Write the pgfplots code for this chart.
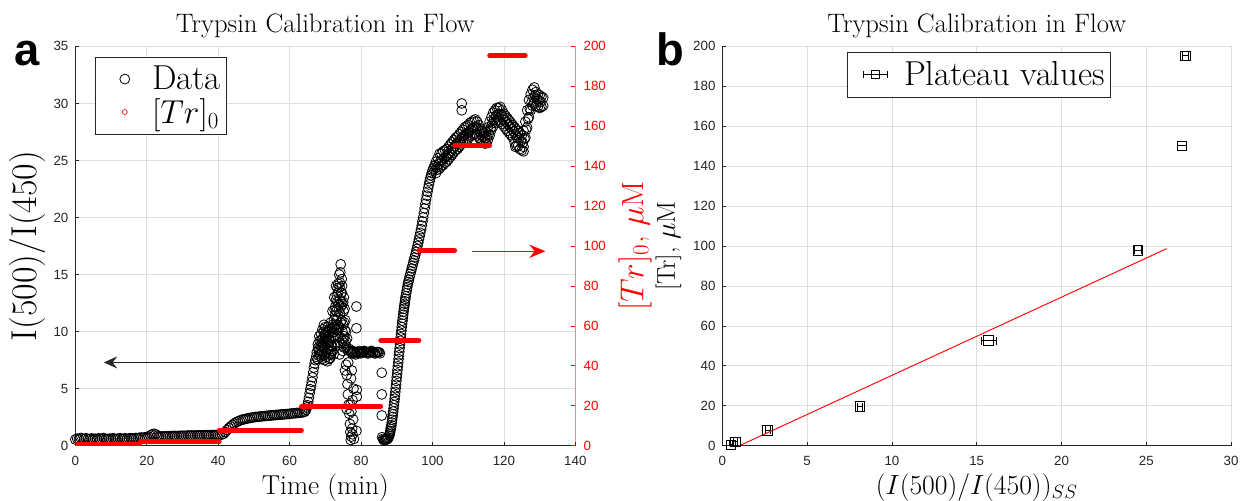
\documentclass[border=0pt]{standalone}
\usepackage{fontspec}
\usepackage{pgfplots}
\pgfplotsset{compat=1.18}
\usetikzlibrary{arrows.meta}
\newfontfamily\ticksf{Liberation Sans}
\definecolor{axgray}{RGB}{38,38,38}
\definecolor{gridgray}{RGB}{222,222,222}
\definecolor{mred}{RGB}{255,0,0}

\pgfplotsset{
  mlab/.style={
    scale only axis,
    anchor=south west,
    tick align=inside,
    major tick length=3pt,
    axis line style={draw=axgray, line width=0.7pt},
    x axis line style={-}, y axis line style={-},
    tick style={axgray, line width=0.6pt},
    ticklabel style={font=\ticksf\fontsize{10}{12}\selectfont, text=axgray},
    /pgf/number format/assume math mode=true,
    xticklabel style={inner sep=0pt, yshift=-8pt},
    title style={font=\fontsize{20}{24}\selectfont, at={(0.5,1)}, anchor=base, yshift=4.5pt},
    xlabel style={font=\fontsize{20.5}{24}\selectfont, at={(axis description cs:0.5,0)}, anchor=base, yshift=-36.5pt},
  },
  mleg/.style={
    legend style={draw=axgray, line width=0.6pt, fill=white,
      font=\fontsize{26}{30}\selectfont, inner xsep=3pt, inner ysep=5.5pt,
      nodes={inner sep=1pt}, row sep=3pt,
      /tikz/every odd column/.append style={column sep=5pt}},
    legend cell align=left,
  },
}

\begin{document}
\begin{tikzpicture}
\path[use as bounding box] (0,0) rectangle (931.5pt,375pt);

% ---------- panel a, left axis ----------
\begin{axis}[mlab, mleg,
  at={(56.5pt,40.7pt)}, width=375pt, height=299.5pt,
  xmin=0, xmax=140, ymin=0, ymax=35,
  xtick={0,20,...,140}, ytick={0,5,...,35},
  axis x line*=bottom, axis y line*=left,
  yticklabel style={inner sep=0pt, xshift=-5pt},
  grid=major, major grid style={draw=gridgray, line width=0.6pt},
  title={Trypsin Calibration in Flow},
  xlabel={Time (min)},
  ylabel={I(500)/I(450)},
  ylabel style={font=\fontsize{27}{31}\selectfont, at={(axis description cs:-0.0773,0.5)}, anchor=base},
  legend style={at={(0.0393,0.973)}, anchor=north west},
  legend image code/.code={\path (0pt,0pt) (33pt,0pt); \draw[mark repeat=2,mark phase=2,#1] plot coordinates {(0pt,0pt) (18.75pt,0pt) (33pt,0pt)};},
]
\addplot[only marks, mark=o, mark size=3.7pt, black, mark options={line width=0.6pt}] table {
0 0.55
0.5 0.62
1 0.6
1.5 0.68
2 0.63
2.5 0.58
3 0.66
3.5 0.6
4 0.57
4.5 0.64
5 0.6
5.5 0.62
6 0.58
6.5 0.65
7 0.6
7.5 0.63
8 0.67
8.5 0.6
9 0.57
9.5 0.62
10 0.6
10.5 0.65
11 0.62
11.5 0.58
12 0.63
12.5 0.66
13 0.6
13.5 0.62
14 0.65
14.5 0.6
15 0.63
15.5 0.66
16 0.62
16.5 0.65
17 0.68
17.5 0.66
18 0.7
18.5 0.72
19 0.7
19.5 0.74
20 0.75
20.5 0.8
21 0.9
21.5 1.0
22 1.05
22.5 1.0
23 0.88
23.5 0.82
24 0.8
24.5 0.82
25 0.8
25.5 0.84
26 0.82
26.5 0.85
27 0.83
27.5 0.86
28 0.85
28.5 0.84
29 0.87
29.5 0.86
30 0.88
30.5 0.86
31 0.88
31.5 0.9
32 0.88
32.5 0.9
33 0.89
33.5 0.9
34 0.9
34.5 0.91
35 0.9
35.5 0.92
36 0.91
36.5 0.92
37 0.93
37.5 0.92
38 0.93
38.5 0.94
39 0.93
39.5 0.94
40 0.95
40.5 0.95
41 0.98
41.5 1.05
42 1.2
42.5 1.38
43 1.55
43.5 1.7
44 1.83
44.5 1.95
45 2.05
45.5 2.13
46 2.2
46.5 2.26
47 2.3
47.5 2.34
48 2.38
48.5 2.41
49 2.44
49.5 2.47
50 2.5
50.5 2.52
51 2.53
51.5 2.55
52 2.57
52.5 2.59
53 2.6
53.5 2.62
54 2.63
54.5 2.65
55 2.66
55.5 2.68
56 2.69
56.5 2.7
57 2.72
57.5 2.73
58 2.74
58.5 2.76
59 2.77
59.5 2.78
60 2.8
60.5 2.82
61 2.84
61.5 2.85
62 2.87
62.5 2.88
63 2.9
63.5 2.92
64 2.95
64.3 3.0
64.6 3.15
64.8 3.35
65 3.55
65.2 3.85
65.4 4.2
65.6 4.6
65.8 4.95
66 5.25
66.2 5.6
66.4 6.0
66.6 6.45
66.8 6.85
67 7.2
67.2 7.5
67.4 7.8
67.6 8.2
67.8 7.6
68 8.6
68.2 7.9
68.4 9.2
68.6 8.3
68.8 9.8
69 7.6
69.2 10.2
69.4 8.8
69.6 10.6
69.8 7.5
70 9.5
70.2 8.2
70.4 10.0
70.6 7.4
70.8 9.0
71 8.0
71.2 9.8
71.4 7.7
71.5 10.8
71.6 8.8
71.8 10.3
72 8.3
72 11.8
72.2 9.6
72.4 11.0
72.5 13.0
72.6 8.9
72.8 12.2
73 10.2
73 14.0
73.2 13.2
73.4 9.6
73.5 8.8
73.6 14.2
73.7 11.8
73.9 15.0
74 12.8
74 8.0
74.1 14.3
74.2 9.0
74.3 15.9
74.4 13.4
74.5 11.0
74.6 14.6
74.7 9.2
74.8 12.4
74.9 8.3
75 10.6
75.1 11.8
75.2 13.0
75.3 9.6
75.4 12.0
75.5 10.1
75.6 11.0
75.7 9.2
75.8 10.0
75.9 8.7
76.1 9.4
76.3 8.4
76.6 8.5
76.8 8.3
68.5 8.0
68.7 8.8
69.0 9.0
69.1 8.2
69.3 9.4
69.5 7.9
69.7 9.7
69.9 8.6
70.1 9.9
70.3 7.8
70.5 9.1
70.7 10.4
70.9 8.4
71.1 7.6
71.3 9.2
71.5 8.0
71.7 9.6
71.9 8.7
72.1 10.6
72.3 8.0
72.5 10.0
72.7 11.4
72.9 9.4
73.1 11.8
73.3 12.6
73.5 10.6
73.6 13.4
73.8 12.4
73.9 10.4
74.1 11.6
74.2 15.2
74.4 12.2
74.6 13.4
74.8 10.0
75.0 12.6
75.2 8.6
75.4 9.0
67.9 8.9
68.1 8.4
68.3 9.6
68.9 9.3
69.2 8.6
69.5 10.0
69.8 9.2
70.0 10.4
70.2 9.6
70.5 8.5
70.8 10.1
71.0 9.3
71.2 8.6
71.4 10.2
71.7 8.3
72.0 9.9
72.3 10.4
72.6 11.9
72.8 10.6
73.0 12.8
73.2 11.0
73.4 13.8
73.7 10.2
74.0 13.9
74.3 10.8
74.5 12.6
74.7 14.0
75.0 9.4
75.3 10.8
77 8.3
77.3 8.2
77.5 8.1
77.8 8.3
78 8.2
78.3 8.1
78.5 8.0
78.8 8.2
79 8.2
79.3 8.1
79.5 8.3
79.8 8.2
80 8.1
80.3 8.2
80.5 8.2
80.8 8.3
81 8.3
81.3 8.2
81.5 8.2
81.8 8.1
82 8.1
82.3 8.2
82.5 8.2
82.8 8.3
83 8.3
83.3 8.2
83.5 8.2
83.8 8.1
84 8.1
84.3 8.2
84.5 8.2
84.8 8.2
85 8.2
85.3 8.1
75.5 6.6
75.8 7.1
76.0 6.2
76.0 3.2
76.2 5.4
76.3 4.5
76.4 7.3
76.5 3.6
76.7 2.8
76.9 1.9
77.0 1.2
77.0 3.6
77.1 0.5
77.2 5.9
77.3 0.8
77.3 3.0
77.4 6.6
77.5 1.5
77.6 4.0
77.6 1.0
77.8 2.3
77.9 5.0
78.0 0.6
78.7 12.2
78.7 10.3
78.8 4.9
78.8 4.3
78.7 1.3
85.8 6.4
85.8 4.5
85.8 2.65
85.9 0.75
86.1 0.6
86.3 0.52
86.5 0.48
86.7 0.5
86.9 0.52
87.1 0.55
87.3 0.58
87.5 0.62
87.7 0.72
87.9 0.88
88.0 1.0
88.1 1.15
88.2 1.3
88.3 1.46
88.4 1.62
88.5 1.8
88.6 2.04
88.7 2.28
88.8 2.52
88.9 2.76
89.0 3.0
89.1 3.28
89.2 3.56
89.3 3.84
89.4 4.12
89.5 4.4
89.6 4.72
89.7 5.04
89.8 5.36
89.9 5.68
90.0 6.0
90.1 6.32
90.2 6.64
90.3 6.96
90.4 7.28
90.5 7.6
90.6 7.92
90.7 8.24
90.8 8.56
90.9 8.88
91.0 9.2
91.1 9.5
91.2 9.8
91.3 10.1
91.4 10.4
91.5 10.7
91.6 10.96
91.7 11.22
91.8 11.48
91.9 11.74
92.0 12.0
92.1 12.22
92.2 12.44
92.3 12.66
92.4 12.88
92.5 13.1
92.65 13.37
92.8 13.64
92.95 13.91
93.1 14.14
93.25 14.35
93.4 14.56
93.6 14.82
93.8 15.06
94.0 15.3
94.2 15.54
94.4 15.78
94.6 16.02
94.8 16.26
95.0 16.5
95.2 16.74
95.4 16.98
95.6 17.24
95.8 17.52
96.0 17.8
96.2 18.08
96.4 18.36
96.6 18.66
96.8 18.98
97.0 19.3
97.2 19.66
97.4 20.02
97.6 20.4
97.8 20.8
98.0 21.2
98.2 21.56
98.4 21.92
98.6 22.26
98.8 22.58
99.0 22.9
99.2 23.18
99.4 23.46
99.6 23.7
99.8 23.9
100.0 24.1
100.25 24.3
100.5 24.5
100.75 24.6
101.0 23.9
101.0 24.9
101.5 24.2
101.5 25.2
102.0 24.3
102.0 25.6
102.5 24.5
102.5 25.6
103.0 24.6
103.0 25.8
103.5 24.8
103.5 25.9
104.0 24.9
104.0 26.0
104.5 25.1
104.5 26.2
105.0 25.3
105.0 26.4
105.5 25.5
105.5 26.6
106.0 25.7
106.0 26.8
106.5 25.9
106.5 27.0
107.0 26.0
107.0 27.1
107.5 26.2
107.5 27.3
108.0 26.4
108.0 27.5
108.5 26.6
108.5 27.7
109.0 26.7
109.0 27.9
109.5 26.8
109.5 28.0
110.0 26.9
110.0 28.1
110.5 27.1
110.5 28.3
111.0 27.2
111.0 28.4
111.5 27.3
111.5 28.5
112.0 27.3
112.0 28.6
112.5 27.2
112.5 28.4
113.0 27.0
113.0 28.1
113.5 26.8
113.5 27.8
114.0 26.6
114.0 27.6
114.5 26.5
114.5 27.4
115.0 26.5
115.0 27.5
115.5 26.8
115.5 27.9
116.0 27.2
116.0 28.4
116.5 27.7
116.5 28.8
117.0 28.0
117.0 29.2
117.5 28.3
117.5 29.4
118.0 28.5
118.0 29.6
118.5 28.5
118.5 29.6
119.0 28.4
119.0 29.7
119.5 28.2
119.5 29.4
120.0 28.0
120.0 29.1
120.5 27.8
120.5 28.9
121.0 27.6
121.0 28.7
121.5 27.4
121.5 28.5
122.0 27.2
122.0 28.3
122.5 27.0
122.5 28.1
123.0 26.6
123.0 27.9
123.5 26.3
123.5 27.7
124.0 26.3
124.0 27.6
124.5 26.0
124.5 27.4
125.0 25.9
125.0 27.2
125.5 26.2
125.5 27.6
126.0 27.0
126.0 28.4
126.5 27.9
126.5 29.4
127.0 28.8
127.0 30.3
127.5 29.4
127.5 30.8
128.0 29.8
128.0 31.2
128.5 30.0
128.5 31.4
129.0 29.8
129.0 31.0
129.5 29.7
129.5 30.8
130.0 29.6
130.0 30.7
130.5 29.7
130.5 30.6
131.0 29.8
131.0 30.5
101.25 24.4
101.75 24.7
102.25 24.95
102.75 25.05
103.25 25.2
103.75 25.35
104.25 25.45
104.75 25.65
105.25 25.85
105.75 26.05
106.25 26.25
106.75 26.45
107.25 26.55
107.75 26.75
108.25 26.95
108.75 27.15
109.25 27.3
109.75 27.4
110.25 27.5
110.75 27.7
111.25 27.8
111.75 27.9
112.25 27.95
112.75 27.8
113.25 27.55
113.75 27.3
114.25 27.1
114.75 26.95
115.25 27.0
115.75 27.35
116.25 27.8
116.75 28.25
117.25 28.6
117.75 28.85
118.25 29.05
118.75 29.05
119.25 29.05
119.75 28.8
120.25 28.55
120.75 28.35
121.25 28.15
121.75 27.95
122.25 27.75
122.75 27.55
123.25 27.25
123.75 27.0
124.25 26.95
124.75 26.7
125.25 26.55
125.75 26.9
126.25 27.7
126.75 28.65
127.25 29.55
127.75 30.1
128.25 30.5
128.75 30.7
129.25 30.4
129.75 30.25
130.25 30.15
108.2 30.0
108.2 29.4
123.2 26.2
125.5 25.8
};
\addlegendentry{Data}
\addlegendimage{only marks, mark=o, mark size=1.9pt, mred, mark options={line width=0.45pt}}
\addlegendentry{$[Tr]_0$}
\draw[black!85, line width=0.7pt, -{Stealth[length=10pt, width=9pt, inset=3.5pt]}] (axis cs:62.9,7.3) -- (axis cs:8.0,7.3);
\end{axis}

% ---------- panel a, right (red) axis ----------
\begin{axis}[mlab,
  at={(56.5pt,40.7pt)}, width=375pt, height=299.5pt,
  xmin=0, xmax=140, ymin=0, ymax=200,
  axis x line=none,
  ytick pos=right, yticklabel pos=right,
  major tick length=0pt,
  ytick={0,20,...,200},
  y axis line style={draw=none},
  yticklabel style={text=mred, inner sep=0pt, anchor=west, xshift=6pt},
  ylabel={$[Tr]_0$, $\mu$M},
  ylabel style={font=\fontsize{23}{27}\selectfont, text=mred, at={(axis description cs:1.136,0.5)}, anchor=base},
]
\draw[mred, line width=0.7pt] (rel axis cs:1,0) -- (rel axis cs:1,1);
\pgfplotsinvokeforeach{0,20,...,200}{\draw[mred, line width=0.6pt] (axis cs:140,#1) -- ++(-3.5pt,0pt);}
\addplot[mred, line width=3.6pt, line cap=round] coordinates {(0.3,0.5) (18.0,0.5)};
\addplot[mred, line width=3.6pt, line cap=round] coordinates {(18.2,2.0) (40.3,2.0)};
\addplot[mred, line width=3.6pt, line cap=round] coordinates {(40.3,7.7) (63.3,7.7)};
\addplot[mred, line width=3.6pt, line cap=round] coordinates {(63.3,19.7) (85.5,19.7)};
\addplot[mred, line width=3.6pt, line cap=round] coordinates {(85.5,52.7) (96.2,52.7)};
\addplot[mred, line width=3.6pt, line cap=round] coordinates {(96.2,97.8) (106.2,97.8)};
\addplot[mred, line width=3.6pt, line cap=round] coordinates {(106.2,150.2) (116.0,150.2)};
\addplot[mred, line width=3.6pt, line cap=round] coordinates {(116.0,195.3) (126.0,195.3)};
\draw[mred, line width=0.7pt, -{Stealth[length=12pt, width=10pt, inset=4pt]}] (axis cs:111,97.4) -- (axis cs:131.6,97.4);
\end{axis}

% ---------- panel b ----------
\begin{axis}[mlab, mleg,
  at={(541.8pt,40.7pt)}, width=381.5pt, height=299.5pt,
  xmin=0, xmax=30, ymin=0, ymax=200,
  xtick={0,5,...,30}, ytick={0,20,...,200},
  axis x line*=bottom, axis y line*=left,
  yticklabel style={inner sep=0pt, xshift=-5pt},
  grid=major, major grid style={draw=gridgray, line width=0.6pt},
  title={Trypsin Calibration in Flow},
  xlabel={$(I(500)/I(450))_{SS}$},
  xlabel style={font=\fontsize{21.5}{25}\selectfont},
  ylabel={[Tr], $\mu$M},
  ylabel style={font=\fontsize{19.3}{23}\selectfont, at={(axis description cs:-0.0932,0.5)}, anchor=base},
  legend style={at={(0.245,0.986)}, anchor=north west, inner ysep=6pt},
]
\addplot[only marks, mark=square, mark size=3.6pt, black, mark options={line width=0.5pt}, forget plot,
  error bars/.cd, x dir=both, x explicit, error bar style={line width=0.5pt, black},
  error mark options={line width=0.5pt, mark size=3pt, rotate=90},
  ] table[x=x, y=y, x error=ex] {
x y ex
0.5 0.5 0.1
0.75 2.0 0.12
2.66 7.7 0.15
8.1 19.6 0.15
15.7 52.7 0.45
24.5 97.8 0.2
27.1 150.2 0.25
27.3 195.3 0.15
};
\addlegendimage{legend image code/.code={
  \path (0pt,0pt) (33pt,0pt);
  \draw[black, line width=0.6pt] (9pt,0pt) -- (27pt,0pt);
  \draw[black, line width=0.6pt] (9pt,-2.5pt) -- (9pt,2.5pt);
  \draw[black, line width=0.6pt] (27pt,-2.5pt) -- (27pt,2.5pt);
  \draw[black, line width=0.6pt] (15pt,-3pt) rectangle (21pt,3pt);}}
\addlegendentry{Plateau values}
\addplot[mred, line width=0.7pt, forget plot] coordinates {(1.0,0) (26.2,98.7)};
\end{axis}

\node[font=\ticksf\bfseries\fontsize{34}{36}\selectfont, anchor=base west, inner sep=0pt] at (10.5pt,326pt) {a};
\node[font=\ticksf\bfseries\fontsize{34}{36}\selectfont, anchor=base west, inner sep=0pt] at (492.5pt,326pt) {b};
\end{tikzpicture}
\end{document}
